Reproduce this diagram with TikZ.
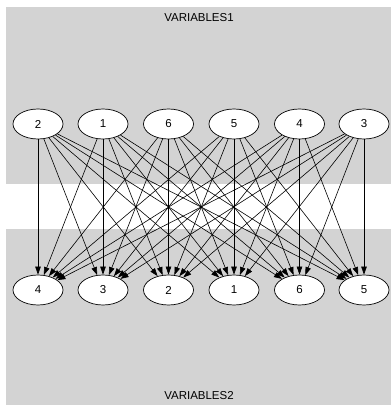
\documentclass[tikz,border=0pt]{standalone}
\usepackage{fontspec}
\setmainfont{Liberation Sans}
\usetikzlibrary{arrows.meta,shapes.geometric}
\definecolor{clgray}{HTML}{D3D3D3}
\tikzset{
  var/.style={ellipse, draw=black, fill=white, line width=0.7pt, minimum width=50pt, minimum height=30pt, inner sep=0pt, font=\fontsize{11.5}{12}\selectfont},
  dep/.style={-{Triangle[length=8pt,width=5.5pt]}, line width=0.6pt, shorten >=0pt},
  clab/.style={font=\fontsize{11.5}{12}\selectfont}
}
\begin{document}
\begin{tikzpicture}[x=1pt,y=1pt]
\useasboundingbox (0,0) rectangle (391,405);
\fill[white] (0,0) rectangle (391,405);
\fill[clgray] (6,221) rectangle (391,398);
\fill[clgray] (6,0) rectangle (391,176);
\node[clab] (c1) at (199,387) {VARIABLES1};
\node[clab] (c2) at (199,9) {VARIABLES2};
% top nodes
\node[var] (t2) at (38,281) {2};
\node[var] (t1) at (103,281) {1};
\node[var] (t6) at (168.5,281) {6};
\node[var] (t5) at (234,281) {5};
\node[var] (t4) at (299.5,281) {4};
\node[var] (t3) at (364,281) {3};
% bottom nodes
\node[var] (b4) at (38,115) {4};
\node[var] (b3) at (103,115) {3};
\node[var] (b2) at (168.5,115) {2};
\node[var] (b1) at (234,115) {1};
\node[var] (b6) at (299.5,115) {6};
\node[var] (b5) at (364,115) {5};
\foreach \s in {t2,t1,t6,t5,t4,t3}{
  \foreach \t in {b4,b3,b2,b1,b6,b5}{
    \draw[dep] (\s) -- (\t);
  }
}
\end{tikzpicture}
\end{document}
